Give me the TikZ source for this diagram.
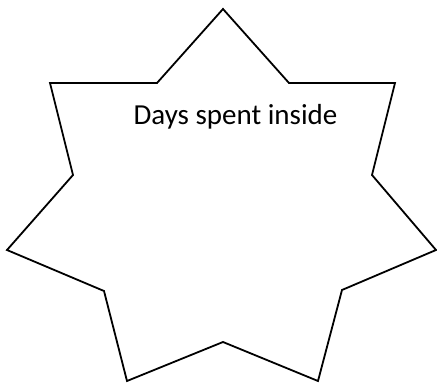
\documentclass[tikz,border=0pt]{standalone}
\usepackage{fontspec}
\setmainfont{Carlito}
\begin{document}
\begin{tikzpicture}[x=1pt,y=-1pt,
  starline/.style={draw=black,line width=1.8pt,line join=miter},
  label/.style={font=\fontsize{29}{33}\selectfont,inner sep=0pt,anchor=base}]
\useasboundingbox (0,0) rectangle (437,383);
\coordinate (p1) at (223,9);
\coordinate (i1) at (289,83);
\coordinate (p2) at (395,83);
\coordinate (i2) at (372,175);
\coordinate (p3) at (436,250);
\coordinate (i3) at (342,290);
\coordinate (p4) at (318,381);
\coordinate (i4) at (223,342);
\coordinate (p5) at (127,381);
\coordinate (i5) at (104,291);
\coordinate (p6) at (7,250);
\coordinate (i6) at (73,175);
\coordinate (p7) at (50,83);
\coordinate (i7) at (157,83);
\draw[starline] (p1) -- (i1) -- (p2) -- (i2) -- (p3) -- (i3) -- (p4) -- (i4) -- (p5) -- (i5) -- (p6) -- (i6) -- (p7) -- (i7) -- cycle;
\node[label] (t) at (235.5,124) {Days spent inside};
\end{tikzpicture}
\end{document}
